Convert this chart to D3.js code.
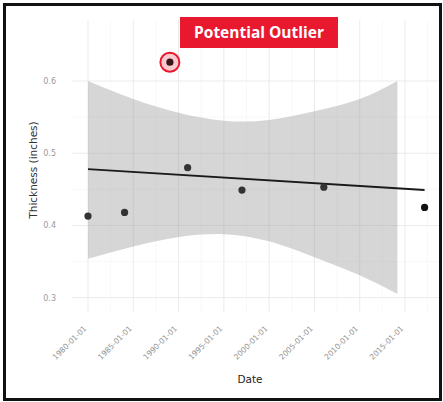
<!DOCTYPE html>
<html>
<head>
<meta charset="utf-8">
<script src="https://cdn.jsdelivr.net/npm/d3@7"></script>
<style>
  body { margin: 0; background: #fff; }
  svg { display: block; }
</style>
</head>
<body>
<svg id="chart" width="443" height="402"></svg>
<script>
const width = 443;
const height = 402;

// measured readings
const pointDates = ["1980-01-01", "1984-01-15", "1989-01-15", "1991-01-01", "1997-01-01", "2006-01-15", "2017-03-01"];
const thickness = [0.413, 0.418, 0.626, 0.480, 0.449, 0.453, 0.425];
const outlierIndex = 2;

const bandDates = ["1980-01-01", "1985-01-01", "1990-01-01", "1995-01-01", "2000-01-01", "2005-01-01", "2010-01-01", "2014-03-01"];
const bandUpper = [0.600, 0.575, 0.556, 0.545, 0.546, 0.558, 0.575, 0.600];
const bandLower = [0.354, 0.371, 0.384, 0.388, 0.378, 0.356, 0.331, 0.305];

const fitDates = ["1980-01-01", "2017-03-01"];
const fitValues = [0.478, 0.449];

const xTicks = ["1980-01-01", "1985-01-01", "1990-01-01", "1995-01-01", "2000-01-01", "2005-01-01", "2010-01-01", "2015-01-01"];
const xMinor = ["1982-07-01", "1987-07-01", "1992-07-01", "1997-07-01", "2002-07-01", "2007-07-01", "2012-07-01", "2017-07-01"];
const yTicks = [0.3, 0.4, 0.5, 0.6];
const yMinor = [0.35, 0.45, 0.55];

const parse = d3.utcParse("%Y-%m-%d");

const x = d3.scaleUtc()
    .domain([parse("1980-01-01"), parse("2015-01-01")])
    .range([88, 405]);
const y = d3.scaleLinear()
    .domain([0.3, 0.6])
    .range([297.7, 81]);

const panel = { left: 72, right: 440, top: 20, bottom: 312 };

const svg = d3.select('#chart');

// grid
const grid = svg.append('g');
grid.selectAll('.ymin').data(yMinor).enter().append('line')
    .attr('x1', panel.left).attr('x2', panel.right)
    .attr('y1', d => y(d)).attr('y2', d => y(d))
    .attr('stroke', '#f6f6f6').attr('stroke-width', 0.8);
grid.selectAll('.xmin').data(xMinor).enter().append('line')
    .attr('x1', d => x(parse(d))).attr('x2', d => x(parse(d)))
    .attr('y1', panel.top).attr('y2', panel.bottom)
    .attr('stroke', '#f6f6f6').attr('stroke-width', 0.8);
grid.selectAll('.ymaj').data(yTicks).enter().append('line')
    .attr('x1', panel.left).attr('x2', panel.right)
    .attr('y1', d => y(d)).attr('y2', d => y(d))
    .attr('stroke', '#ebebeb').attr('stroke-width', 1);
grid.selectAll('.xmaj').data(xTicks).enter().append('line')
    .attr('x1', d => x(parse(d))).attr('x2', d => x(parse(d)))
    .attr('y1', panel.top).attr('y2', panel.bottom)
    .attr('stroke', '#ebebeb').attr('stroke-width', 1);

// confidence band
const band = bandDates.map((d, i) => ({ date: parse(d), lo: bandLower[i], hi: bandUpper[i] }));
svg.append('path')
    .datum(band)
    .attr('d', d3.area()
        .x(d => x(d.date))
        .y0(d => y(d.lo))
        .y1(d => y(d.hi))
        .curve(d3.curveNatural))
    .attr('fill', '#999')
    .attr('fill-opacity', 0.4);

// fit line
const fit = fitDates.map((d, i) => ({ date: parse(d), v: fitValues[i] }));
svg.append('path')
    .datum(fit)
    .attr('d', d3.line().x(d => x(d.date)).y(d => y(d.v)))
    .attr('fill', 'none')
    .attr('stroke', '#1a1a1a')
    .attr('stroke-width', 2);

// points
const points = pointDates.map((d, i) => ({ date: parse(d), v: thickness[i], i }));
const outlier = points[outlierIndex];
svg.append('circle')
    .attr('cx', x(outlier.date)).attr('cy', y(outlier.v))
    .attr('r', 9.5)
    .attr('fill', '#f9c9cf')
    .attr('stroke', '#e8192f')
    .attr('stroke-width', 2);

svg.selectAll('.pt').data(points).enter().append('circle')
    .attr('cx', d => x(d.date))
    .attr('cy', d => y(d.v))
    .attr('r', 3.6)
    .attr('fill', d => d.i === outlierIndex ? '#3b1418' : (d.i === points.length - 1 ? '#111' : '#333'));

// y tick labels
svg.selectAll('.ytl').data(yTicks).enter().append('text')
    .attr('x', 56)
    .attr('y', d => y(d))
    .attr('dy', '0.35em')
    .attr('text-anchor', 'end')
    .attr('font-family', 'DejaVu Sans, sans-serif')
    .attr('font-size', 8)
    .attr('fill', '#9a9a9a')
    .text(d => d.toFixed(1));

// x tick labels
svg.selectAll('.xtl').data(xTicks).enter().append('text')
    .attr('transform', d => `translate(${x(parse(d)) - 1}, 329) rotate(-45)`)
    .attr('text-anchor', 'end')
    .attr('font-family', 'DejaVu Sans, sans-serif')
    .attr('font-size', 7.6)
    .attr('fill', '#929292')
    .text(d => d);

// axis titles
svg.append('text')
    .attr('transform', 'translate(37, 170) rotate(-90)')
    .attr('text-anchor', 'middle')
    .attr('font-family', 'DejaVu Sans, sans-serif')
    .attr('font-size', 10.5)
    .attr('fill', '#333')
    .text('Thickness (inches)');

svg.append('text')
    .attr('x', 250).attr('y', 383)
    .attr('text-anchor', 'middle')
    .attr('font-family', 'DejaVu Sans, sans-serif')
    .attr('font-size', 10.5)
    .attr('fill', '#222')
    .text('Date');

// callout
svg.append('rect')
    .attr('x', 180).attr('y', 17)
    .attr('width', 158).attr('height', 31)
    .attr('fill', '#e8192f');
svg.append('text')
    .attr('x', 259).attr('y', 38)
    .attr('text-anchor', 'middle')
    .attr('font-family', 'Open Sans, sans-serif')
    .attr('font-weight', 700)
    .attr('font-size', 15.5)
    .attr('fill', '#fff')
    .text('Potential Outlier');

// frame
svg.append('rect')
    .attr('x', 4.5).attr('y', 4.5)
    .attr('width', width - 7).attr('height', height - 7)
    .attr('fill', 'none')
    .attr('stroke', '#111')
    .attr('stroke-width', 3);
</script>
</body>
</html>
